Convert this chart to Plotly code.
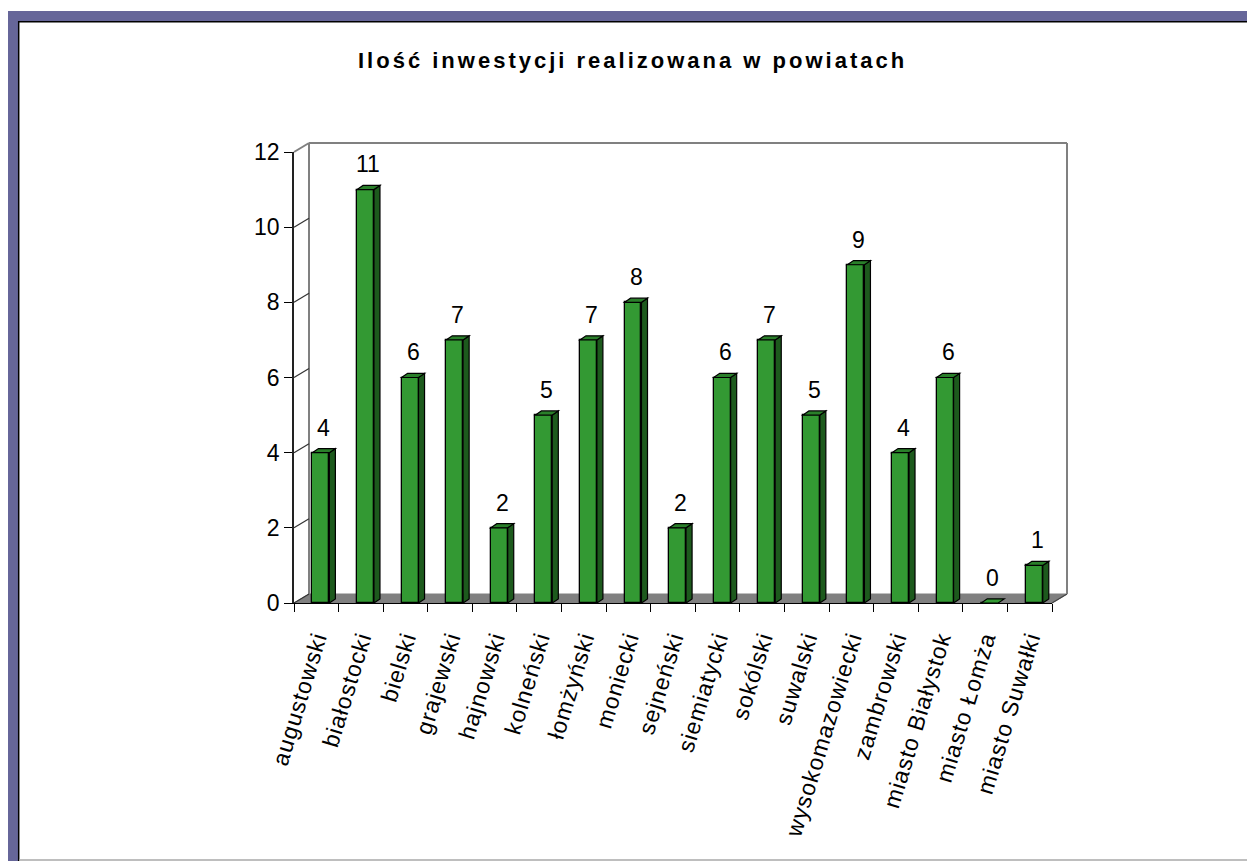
import plotly.graph_objects as go

# ---------------- data ----------------
categories = ["augustowski", "białostocki", "bielski", "grajewski", "hajnowski",
              "kolneński", "łomżyński", "moniecki", "sejneński", "siemiatycki",
              "sokólski", "suwalski", "wysokomazowiecki", "zambrowski",
              "miasto Białystok", "miasto Łomża", "miasto Suwałki"]
values = [4, 11, 6, 7, 2, 5, 7, 8, 2, 6, 7, 5, 9, 4, 6, 0, 1]
y_ticks = [0, 2, 4, 6, 8, 10, 12]
title_text = "Ilość inwestycji realizowana w powiatach"

# ---------------- layout constants ----------------
W, H = 1247, 861
L, T = 294, 143            # plot area left/top (px)
PW, PH = 773, 460          # plot area width/height (px)
R, B = W - L - PW, H - T - PH
DX, DY = 15, 9             # wall depth in px
FONT = "Liberation Sans, Arial, sans-serif"

BAR_W = 0.38               # bar width (category units)
BAR_OFF = -0.087           # left edge offset from category center
DEP_X = 0.135              # bar depth, category units
DEP_Y = 0.11               # bar depth, value units

GREEN = "#339933"
GREEN_TOP = "#2a7f2a"
GREEN_SIDE = "#1d5a1d"
GRAY = "#808080"

fx = [0, (PW - DX) / PW]
fy = [0, (PH - DY) / PH]
bx = [DX / PW, 1]
by = [DY / PH, 1]

fig = go.Figure()

fig.add_trace(go.Bar(
    x=categories, y=values, width=BAR_W, offset=BAR_OFF,
    marker=dict(color=GREEN, line=dict(color="black", width=1.3)),
    xaxis="x", yaxis="y", hoverinfo="x+y", showlegend=False,
))

shapes = []

def px_x(p):
    return (p - L) / PW

def px_y(p):
    return (T + PH - p) / PH

# frame around the slide
shapes += [
    dict(type="rect", xref="paper", yref="paper", x0=px_x(8), x1=px_x(W + 5),
         y0=px_y(11), y1=px_y(21), fillcolor="#666699", line_width=0, layer="below"),
    dict(type="rect", xref="paper", yref="paper", x0=px_x(8), x1=px_x(18),
         y0=px_y(11), y1=px_y(H + 5), fillcolor="#666699", line_width=0, layer="below"),
    dict(type="line", xref="paper", yref="paper", x0=px_x(18), x1=px_x(W + 5),
         y0=px_y(21.7), y1=px_y(21.7), line=dict(color="black", width=1.5), layer="below"),
    dict(type="line", xref="paper", yref="paper", x0=px_x(18.7), x1=px_x(18.7),
         y0=px_y(21), y1=px_y(H + 5), line=dict(color="black", width=1.5), layer="below"),
    dict(type="line", xref="paper", yref="paper", x0=px_x(19), x1=px_x(W + 5),
         y0=px_y(860), y1=px_y(860), line=dict(color="#a8a8a8", width=1.5), layer="below"),
]

# floor
shapes.append(dict(
    type="path", xref="paper", yref="paper",
    path=f"M {fx[0]},{fy[0]} L {fx[1]},{fy[0]} L {bx[1]},{by[0]} L {bx[0]},{by[0]} Z",
    fillcolor=GRAY, line=dict(color=GRAY, width=1), layer="between"))
# right diagonal of floor
shapes.append(dict(type="line", xref="paper", yref="paper",
                   x0=fx[1], y0=fy[0], x1=bx[1], y1=by[0],
                   line=dict(color="#444444", width=1.2), layer="between"))
# back wall edges
shapes += [
    dict(type="line", xref="paper", yref="paper", x0=bx[0], x1=bx[0], y0=by[0], y1=by[1],
         line=dict(color=GRAY, width=2), layer="between"),
    dict(type="line", xref="paper", yref="paper", x0=bx[1], x1=bx[1], y0=by[0], y1=by[1],
         line=dict(color=GRAY, width=2), layer="between"),
    dict(type="line", xref="paper", yref="paper", x0=bx[0], x1=bx[1], y0=by[1], y1=by[1],
         line=dict(color=GRAY, width=2), layer="between"),
]
# diagonal connectors from front axis ticks to the wall
for v in y_ticks:
    yf = fy[0] + (fy[1] - fy[0]) * v / y_ticks[-1]
    yb = by[0] + (by[1] - by[0]) * v / y_ticks[-1]
    col = GRAY if v == y_ticks[-1] else "#333333"
    shapes.append(dict(type="line", xref="paper", yref="paper",
                       x0=fx[0], y0=yf, x1=bx[0], y1=yb,
                       line=dict(color=col, width=1.2 if v != y_ticks[-1] else 2),
                       layer="between"))

# bar top and side faces
annotations = []
for i, v in enumerate(values):
    xl = i + BAR_OFF
    xr = xl + BAR_W
    if v > 0:
        shapes.append(dict(
            type="path", xref="x", yref="y",
            path=f"M {xr},0 L {xr},{v} L {xr + DEP_X},{v + DEP_Y} L {xr + DEP_X},{DEP_Y} Z",
            fillcolor=GREEN_SIDE, line=dict(color="black", width=1.2), layer="above"))
    shapes.append(dict(
        type="path", xref="x", yref="y",
        path=f"M {xl},{v} L {xr},{v} L {xr + DEP_X},{v + DEP_Y} L {xl + DEP_X},{v + DEP_Y} Z",
        fillcolor=GREEN_TOP if v > 0 else GREEN, line=dict(color="black", width=1.2), layer="above"))
    annotations.append(dict(
        x=(xl + xr) / 2 + DEP_X / 2, y=v + DEP_Y, xref="x", yref="y",
        text=str(v), showarrow=False, yanchor="bottom", yshift=6,
        font=dict(family=FONT, size=23, color="black")))

annotations.append(dict(
    x=px_x(632.5), y=px_y(60), xref="paper", yref="paper",
    text=f"<span style=\"letter-spacing:3px\"><b>{title_text}</b></span>",
    showarrow=False, xanchor="center", yanchor="middle",
    font=dict(family=FONT, size=22, color="black")))

tick_text = [f"<span style=\"letter-spacing:1px\">{c}</span>" for c in categories]

fig.update_layout(
    width=W, height=H, autosize=False,
    margin=dict(l=L, r=R, t=T, b=B, pad=0),
    paper_bgcolor="white", plot_bgcolor="rgba(0,0,0,0)",
    showlegend=False, bargap=0,
    font=dict(family=FONT, color="black"),
    shapes=shapes, annotations=annotations,
    xaxis=dict(domain=fx, anchor="y", type="category", range=[-0.5, len(categories) - 0.5],
               tickmode="array", tickvals=categories, ticktext=tick_text,
               showline=True, linecolor="black", linewidth=1.3,
               ticks="outside", tickson="boundaries", ticklen=8, tickcolor="black", tickwidth=1.2,
               tickangle=-73, ticklabelstandoff=12,
               tickfont=dict(family=FONT, size=23, color="black"),
               showgrid=False, zeroline=False, fixedrange=True),
    yaxis=dict(domain=fy, anchor="x", range=[y_ticks[0], y_ticks[-1]], tickvals=y_ticks,
               showline=True, linecolor="#222222", linewidth=1.5,
               ticks="outside", ticklen=8, tickcolor="black", tickwidth=1.2,
               tickfont=dict(family=FONT, size=23, color="black"),
               showgrid=False, zeroline=False, fixedrange=True),
    xaxis2=dict(domain=bx, anchor="y2", range=[0, 1], visible=False, fixedrange=True),
    yaxis2=dict(domain=by, anchor="x2", range=[y_ticks[0], y_ticks[-1]], tickvals=y_ticks[1:-1],
                showgrid=True, gridcolor="black", gridwidth=1, showticklabels=False,
                ticks="", showline=False, zeroline=False, fixedrange=True),
)

fig.write_html("out.html", config={"displayModeBar": False},
               post_script="document.body.style.margin='0';document.body.style.overflow='hidden';")
